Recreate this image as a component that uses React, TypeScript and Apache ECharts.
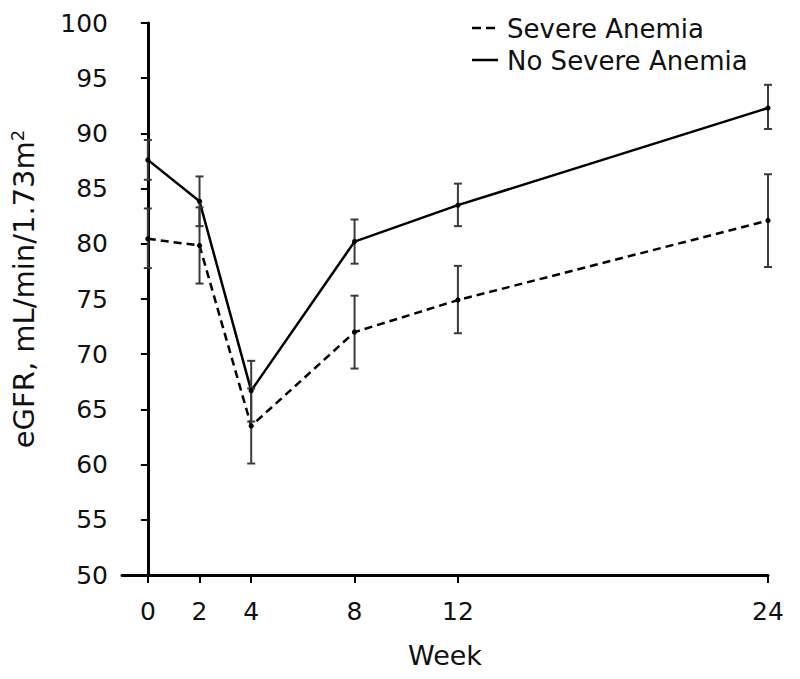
import React, { useEffect, useRef } from "react";
import * as echarts from "echarts";

const weeks = [0, 2, 4, 8, 12, 24];
const xTickValues = [0, 2, 4, 8, 12, 24];
const severeMean = [80.45, 79.85, 63.5, 72.0, 74.9, 82.1];
const severeLow = [77.8, 76.4, 60.1, 68.7, 71.9, 77.9];
const severeHigh = [83.2, 83.3, 66.9, 75.3, 78.0, 86.3];
const noSevereMean = [87.6, 83.85, 66.7, 80.2, 83.5, 92.3];
const noSevereLow = [85.8, 81.6, 63.9, 78.2, 81.6, 90.4];
const noSevereHigh = [89.4, 86.1, 69.4, 82.2, 85.45, 94.4];
const legendNames = ["Severe Anemia", "No Severe Anemia"];

const FONT = '"DejaVu Sans", "Liberation Sans", Arial, sans-serif';
const TXT = "#111";

function errorSeries(name: string, mean: number[], low: number[], high: number[]) {
  return {
    type: "custom",
    name: name + " err",
    z: 5,
    data: weeks.map((w, i) => [w, low[i], high[i], mean[i]]),
    renderItem: (params: any, api: any) => {
      const x = api.value(0);
      const lo = api.coord([x, api.value(1)]);
      const hi = api.coord([x, api.value(2)]);
      const mid = api.coord([x, api.value(3)]);
      const cap = 4;
      const st = { stroke: "#3a3a3a", lineWidth: 2 };
      return {
        type: "group",
        children: [
          { type: "line", shape: { x1: lo[0], y1: lo[1], x2: hi[0], y2: hi[1] }, style: st },
          { type: "line", shape: { x1: lo[0] - cap, y1: lo[1], x2: lo[0] + cap, y2: lo[1] }, style: st },
          { type: "line", shape: { x1: hi[0] - cap, y1: hi[1], x2: hi[0] + cap, y2: hi[1] }, style: st },
          { type: "circle", shape: { cx: mid[0], cy: mid[1], r: 2.6 }, style: { fill: "#000" } },
        ],
      };
    },
  };
}

export default function App() {
  const ref = useRef<HTMLDivElement>(null);
  useEffect(() => {
    if (!ref.current) return;
    const chart = echarts.init(ref.current, null, { renderer: "svg" });
    chart.setOption({
      animation: false,
      backgroundColor: "#fff",
      grid: { left: 120, right: 32, top: 23, bottom: 104 },
      graphic: [
        {
          type: "line",
          shape: { x1: 472, y1: 28, x2: 498, y2: 28 },
          style: { stroke: "#000", lineWidth: 2.5, lineDash: [9, 5] },
        },
        {
          type: "text",
          x: 507,
          y: 29,
          style: { text: legendNames[0], fontSize: 26, fontFamily: FONT, fill: TXT, verticalAlign: "middle" },
        },
        {
          type: "line",
          shape: { x1: 472, y1: 60, x2: 498, y2: 60 },
          style: { stroke: "#000", lineWidth: 2.5 },
        },
        {
          type: "text",
          x: 507,
          y: 61,
          style: { text: legendNames[1], fontSize: 26, fontFamily: FONT, fill: TXT, verticalAlign: "middle" },
        },
      ],
      xAxis: {
        type: "value",
        min: -1,
        max: 24,
        name: "Week",
        nameLocation: "middle",
        nameGap: 67,
        nameTextStyle: { fontSize: 27, color: TXT, fontFamily: FONT },
        splitLine: { show: false },
        axisLine: { onZero: false, lineStyle: { color: "#000", width: 3 } },
        axisTick: { show: true, customValues: xTickValues, length: 8, lineStyle: { color: "#000", width: 2 } },
        axisLabel: { customValues: xTickValues, margin: 24, fontSize: 25, color: TXT, fontFamily: FONT },
      },
      yAxis: {
        type: "value",
        min: 50,
        max: 100,
        interval: 5,
        name: "eGFR, mL/min/1.73m{sup|2}",
        nameLocation: "middle",
        nameGap: 82,
        nameTextStyle: {
          fontSize: 29,
          color: TXT,
          fontFamily: FONT,
          padding: [0, 0, 0, 20],
          rich: { sup: { fontSize: 18, verticalAlign: "top", padding: [0, 0, 14, 0], color: TXT, fontFamily: FONT } },
        },
        splitLine: { show: false },
        axisLine: { show: true, lineStyle: { color: "#000", width: 3 } },
        axisTick: { show: true, length: 7, lineStyle: { color: "#000", width: 2 } },
        axisLabel: { margin: 14, fontSize: 25, color: TXT, fontFamily: FONT },
      },
      series: [
        {
          type: "line",
          name: legendNames[0],
          data: weeks.map((w, i) => [w, severeMean[i]]),
          showSymbol: false,
          symbol: "none",
          lineStyle: { color: "#000", width: 2.5, type: [8, 5] },
          itemStyle: { color: "#000" },
        },
        {
          type: "line",
          name: legendNames[1],
          data: weeks.map((w, i) => [w, noSevereMean[i]]),
          showSymbol: false,
          symbol: "none",
          lineStyle: { color: "#000", width: 2.5 },
          itemStyle: { color: "#000" },
        },
        errorSeries(legendNames[0], severeMean, severeLow, severeHigh),
        errorSeries(legendNames[1], noSevereMean, noSevereLow, noSevereHigh),
      ],
    });
    return () => chart.dispose();
  }, []);
  return <div ref={ref} style={{ position: "fixed", left: 0, top: 0, width: 800, height: 679 }} />;
}
